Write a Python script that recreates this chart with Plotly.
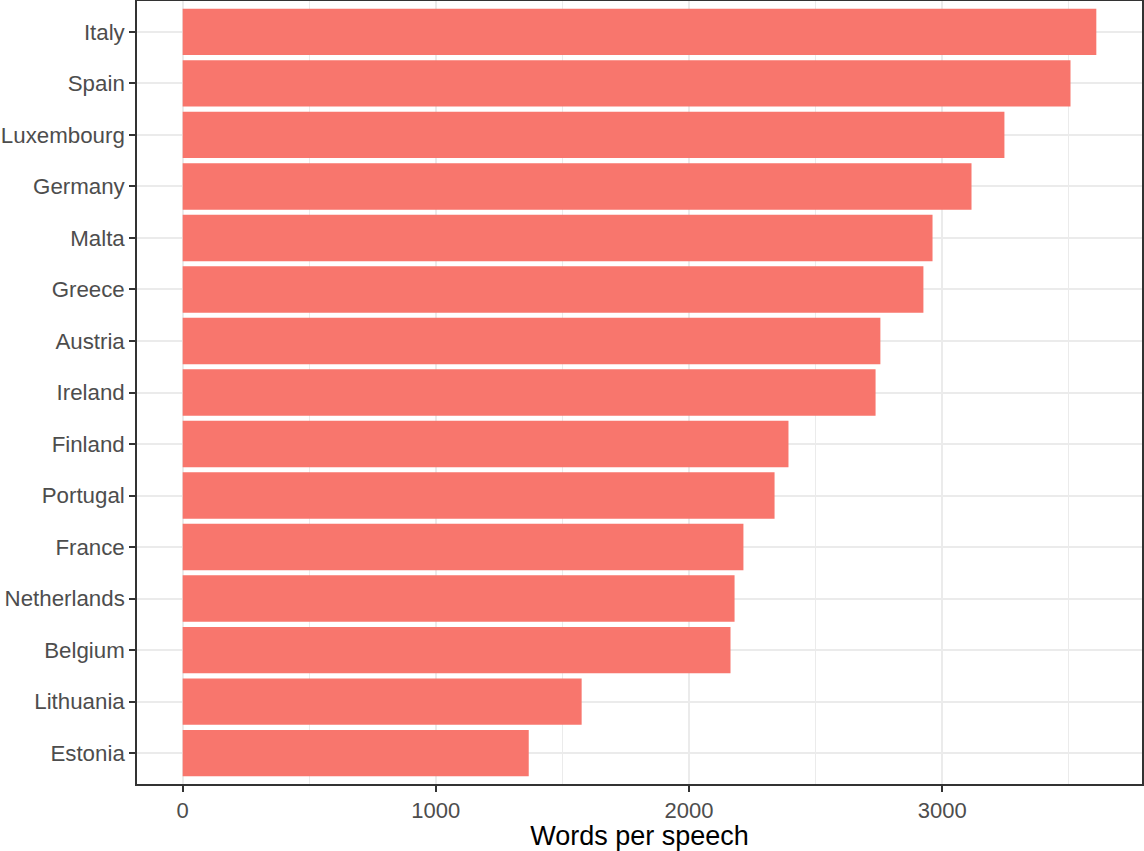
import plotly.graph_objects as go

countries = ["Italy", "Spain", "Luxembourg", "Germany", "Malta", "Greece", "Austria",
             "Ireland", "Finland", "Portugal", "France", "Netherlands", "Belgium",
             "Lithuania", "Estonia"]
words = [3609, 3507, 3246, 3116, 2962, 2926, 2756, 2737, 2393, 2338, 2215, 2180, 2164, 1576, 1367]

# plot bottom-to-top
ys = countries[::-1]
xs = words[::-1]

fig = go.Figure(go.Bar(
    x=xs, y=ys, orientation="h",
    marker=dict(color="#F8766D", line=dict(width=0)),
    hoverinfo="x+y",
))

xmax = max(words)
fig.update_layout(
    width=1144, height=851,
    margin=dict(l=137, r=2, t=1, b=67, autoexpand=False),
    paper_bgcolor="white", plot_bgcolor="white",
    bargap=0.1,
    showlegend=False,
    font=dict(family="Liberation Sans, Arial, sans-serif", size=22, color="#4D4D4D"),
)
fig.update_xaxes(
    range=[-0.05 * xmax, 1.05 * xmax],
    tickvals=[0, 1000, 2000, 3000],
    ticks="outside", ticklen=6, tickwidth=2, tickcolor="#333333",
    showgrid=True, gridcolor="#EBEBEB", gridwidth=2,
    minor=dict(tickvals=[500, 1500, 2500, 3500], showgrid=True, gridcolor="#EBEBEB", gridwidth=1, ticks=""),
    showline=True, linecolor="#333333", linewidth=1.5, mirror=True,
    zeroline=False,
    automargin=False,
    tickfont=dict(size=22, color="#4D4D4D"),
    title=dict(text="Words per speech", font=dict(size=27, color="black"), standoff=6),
)
fig.update_yaxes(
    categoryorder="array", categoryarray=ys,
    range=[-0.6, len(ys) - 0.4],
    ticks="outside", ticklen=6, tickwidth=2, tickcolor="#333333",
    showgrid=True, gridcolor="#EBEBEB", gridwidth=2,
    showline=True, linecolor="#333333", linewidth=1.5, mirror=True,
    zeroline=False,
    automargin=False,
    ticklabelstandoff=0,
    tickfont=dict(size=22.3, color="#4D4D4D"),
)

fig.write_html("out.html", config={"displayModeBar": False},
               post_script="document.body.style.margin='0';")
